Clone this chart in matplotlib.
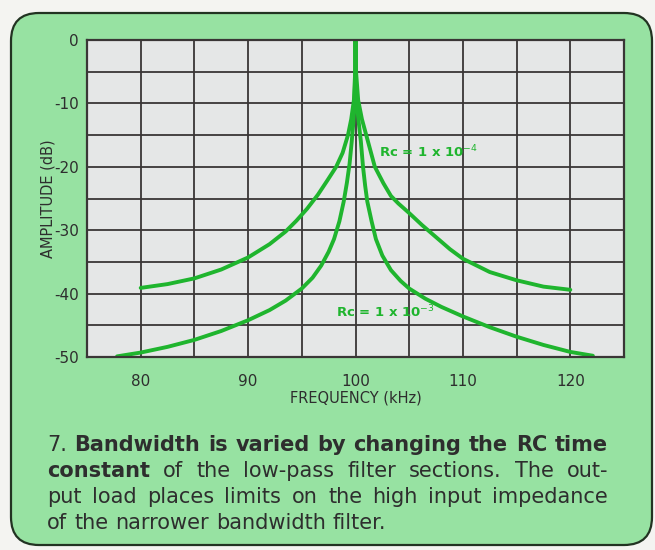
"""
Amplitude response of the two band-pass filters (RC = 1e-4 and 1e-3)
with the figure caption underneath.
"""

import matplotlib
matplotlib.use("Agg")
import matplotlib.pyplot as plt
from matplotlib.patches import FancyBboxPatch
from matplotlib.transforms import IdentityTransform

#### Data
# Rc = 1 x 10^-4 (wide response)
wide_khz = [80, 82.5, 85, 87.5, 90, 92, 93.5, 94.5, 95.5, 96.5, 97.4, 98.2, 98.8,
            99.3, 99.6, 99.85, 99.97, 100,
            100.05, 100.25, 100.6, 101.0, 101.4, 101.8, 102.6, 103.3, 104, 105,
            106.2, 107.5, 108.8, 110, 112.5, 115, 117.5, 120]
wide_db = [-39.1, -38.5, -37.6, -36.2, -34.3, -32.2, -30.2, -28.5, -26.6, -24.4, -22.1, -20, -17.8,
           -15, -12.5, -9.5, -5, 0,
           -5, -9.5, -12.5, -15, -17.5, -20, -22.6, -24.6, -25.8, -27.3,
           -29.2, -31.1, -33, -34.5, -36.6, -37.9, -38.9, -39.4]

# Rc = 1 x 10^-3 (narrow response)
narrow_khz = [77.8, 80, 82.5, 85, 87.5, 90, 92, 93.5, 95, 96, 96.8, 97.5, 98.0, 98.5,
              98.9, 99.2, 99.45, 99.65, 99.8, 99.9, 99.97, 100,
              100.03, 100.12, 100.3, 100.5, 100.7, 100.9, 101.1, 101.5, 101.9, 102.5,
              103.3, 104.2, 105, 106.5, 108, 110, 112.5, 115, 117.5, 120, 122.1]
narrow_db = [-49.9, -49.3, -48.4, -47.3, -45.9, -44.2, -42.6, -41.1, -39.2, -37.5, -35.6, -33.4, -31.4, -28.6,
             -25.5, -22.5, -19.5, -16, -13, -10, -6, 0,
             -6, -10, -13, -16, -20, -23, -25.5, -28.6, -31.4, -34,
             -36.3, -38, -39.2, -40.8, -42.1, -43.6, -45.3, -46.8, -48.1, -49.2, -49.8]

x_ticks = [80, 90, 100, 110, 120]
y_ticks = [0, -10, -20, -30, -40, -50]

caption = [
    [("7.", "normal"), ("Bandwidth", "bold"), ("is", "bold"), ("varied", "bold"),
     ("by", "bold"), ("changing", "bold"), ("the", "bold"), ("RC", "bold"), ("time", "bold")],
    [("constant", "bold"), ("of", "normal"), ("the", "normal"), ("low-pass", "normal"),
     ("filter", "normal"), ("sections.", "normal"), ("The", "normal"), ("out-", "normal")],
    [(w, "normal") for w in "put load places limits on the high input impedance".split()],
    [(w, "normal") for w in "of the narrower bandwidth filter.".split()],
]

GREEN_BG = "#97e2a2"
CURVE = "#1fb52e"
GRID = "#3a3636"
INK = "#2e2e2e"

W, H = 655, 550


def set_justified(fig, words, x0, x1, ybase, size, stretch=True):
    """Lay out one caption line in pixel coords, spreading words to fill x0..x1."""
    r = fig.canvas.get_renderer()
    arts = [fig.text(0, H - ybase, w, fontsize=size, fontweight=wt, color=INK,
                     transform=IdentityTransform(), ha="left", va="baseline")
            for w, wt in words]
    widths = [a.get_window_extent(r).width for a in arts]
    if stretch:
        gap = (x1 - x0 - sum(widths)) / (len(arts) - 1)
    else:
        gap = 7.0
    x = x0
    for a, w in zip(arts, widths):
        a.set_x(x)
        x += w + gap


def main():
    fig = plt.figure(figsize=(W / 100, H / 100), dpi=100)
    fig.patch.set_facecolor("#f4f4f1")

    # rounded green panel, drawn in pixel units
    bg = fig.add_axes([0, 0, 1, 1])
    bg.set_xlim(0, W)
    bg.set_ylim(H, 0)
    bg.axis("off")
    panel = FancyBboxPatch((11, 13), 641, 532, boxstyle="round,pad=0,rounding_size=28",
                           facecolor=GREEN_BG, edgecolor="#223322", linewidth=1.6)
    bg.add_patch(panel)

    ax = fig.add_axes([87 / W, 1 - 357 / H, (624 - 87) / W, (357 - 40) / H])
    ax.set_facecolor("#e5e7e7")
    ax.set_xlim(75, 125)
    ax.set_ylim(-50, 0)

    ax.set_xticks(range(75, 126, 5), minor=True)
    ax.set_yticks(range(-50, 1, 5), minor=True)
    ax.set_xticks(x_ticks)
    ax.set_yticks(y_ticks)
    ax.set_xticklabels([str(v) for v in x_ticks])
    ax.set_yticklabels([str(v) for v in y_ticks])
    ax.grid(True, which="both", color=GRID, linewidth=1.3)
    ax.set_axisbelow(True)
    ax.tick_params(which="both", length=0, labelsize=11, colors=INK)
    ax.tick_params(axis="x", pad=12)
    ax.tick_params(axis="y", pad=6)
    for s in ax.spines.values():
        s.set_color(GRID)
        s.set_linewidth(1.6)

    ax.plot(wide_khz, wide_db, color=CURVE, linewidth=2.8, solid_joinstyle="round",
            solid_capstyle="round")
    ax.plot(narrow_khz, narrow_db, color=CURVE, linewidth=2.8, solid_joinstyle="round",
            solid_capstyle="round")

    ax.text(102.2, -17.7, r"Rc = 1 x 10$^{-4}$", color=CURVE, fontsize=9.5,
            fontweight="bold", ha="left", va="center")
    ax.text(98.2, -42.9, r"Rc = 1 x 10$^{-3}$", color=CURVE, fontsize=9.5,
            fontweight="bold", ha="left", va="center")

    # axis titles placed directly in axes fraction
    ax.text(0.5, -(398 - 357) / 317, "FREQUENCY (kHz)", transform=ax.transAxes,
            fontsize=10.5, color=INK, ha="center", va="center")
    ax.text((48 - 87) / 537, 0.5, "AMPLITUDE (dB)", transform=ax.transAxes,
            fontsize=10.5, color=INK, ha="center", va="center", rotation=90)

    baselines = [451, 477, 503, 529]
    for i, (line, yb) in enumerate(zip(caption, baselines)):
        set_justified(fig, line, 47, 608, yb, 15, stretch=(i < len(caption) - 1))

    fig.savefig("out.png", dpi=100, facecolor=fig.get_facecolor())


if __name__ == "__main__":
    main()
